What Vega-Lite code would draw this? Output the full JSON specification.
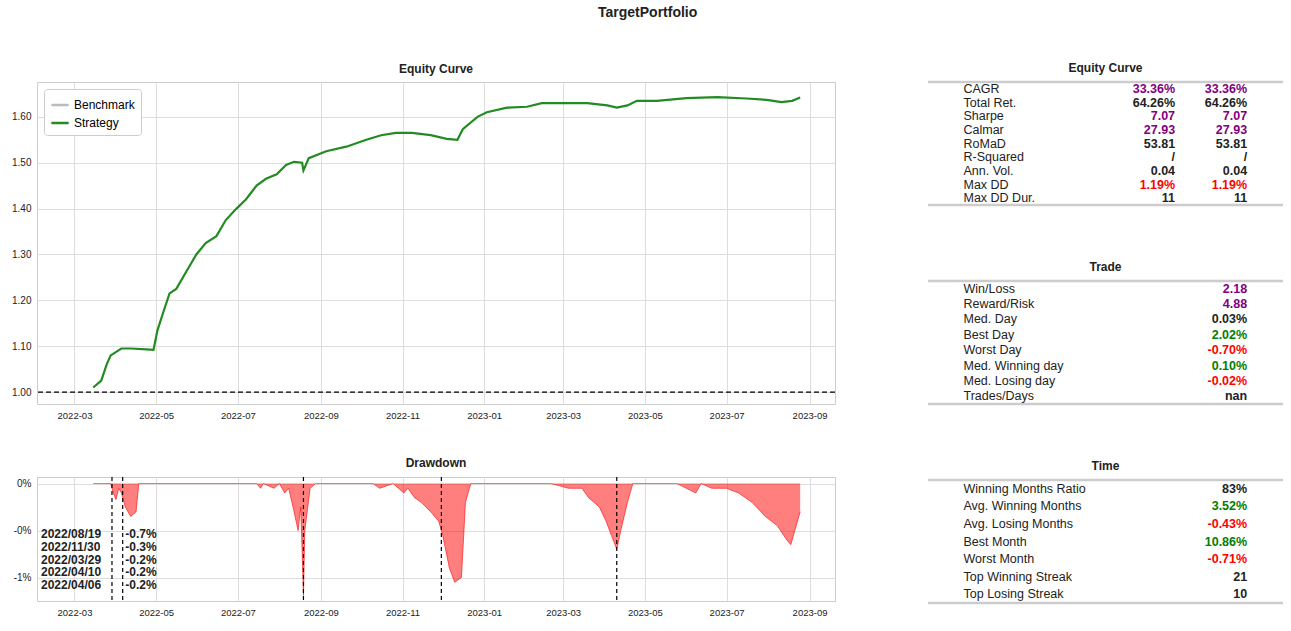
{
"$schema":"https://vega.github.io/schema/vega-lite/v6.json",
"title":{"text":"TargetPortfolio","fontSize":14,"font":"Liberation Sans","fontWeight":"bold","offset":42,"anchor":"middle"},
"padding":{"left":11,"top":5,"right":5,"bottom":5},
"config":{"view":{"stroke":"#cccccc"},"font":"Liberation Sans","title":{"fontSize":12,"fontWeight":"bold","font":"Liberation Sans","color":"#222"},"axis":{"labelFont":"Liberation Sans","labelFontSize":10,"labelColor":"#222","gridColor":"#dddddd","domain":false,"ticks":false,"labelPadding":6}},
"spacing":89,
"resolve":{"scale":{"color":"independent"}},
"datasets":{
"eq":[
{"d":"2022/03/15","v":1.01},{"d":"2022/03/21","v":1.025},{"d":"2022/03/25","v":1.06},{"d":"2022/03/28","v":1.08},{"d":"2022/04/05","v":1.095},{"d":"2022/04/12","v":1.095},{"d":"2022/04/24","v":1.093},{"d":"2022/04/29","v":1.092},{"d":"2022/05/02","v":1.135},{"d":"2022/05/07","v":1.18},{"d":"2022/05/11","v":1.215},{"d":"2022/05/16","v":1.225},{"d":"2022/05/23","v":1.26},{"d":"2022/05/31","v":1.30},{"d":"2022/06/07","v":1.325},{"d":"2022/06/15","v":1.34},{"d":"2022/06/22","v":1.375},{"d":"2022/06/30","v":1.40},{"d":"2022/07/07","v":1.42},{"d":"2022/07/15","v":1.45},{"d":"2022/07/22","v":1.465},{"d":"2022/07/30","v":1.475},{"d":"2022/08/06","v":1.495},{"d":"2022/08/12","v":1.502},{"d":"2022/08/18","v":1.50},{"d":"2022/08/19","v":1.483},{"d":"2022/08/23","v":1.51},{"d":"2022/09/05","v":1.525},{"d":"2022/09/20","v":1.535},{"d":"2022/10/05","v":1.55},{"d":"2022/10/16","v":1.56},{"d":"2022/10/27","v":1.565},{"d":"2022/11/08","v":1.565},{"d":"2022/11/22","v":1.56},{"d":"2022/12/04","v":1.552},{"d":"2022/12/12","v":1.55},{"d":"2022/12/16","v":1.573},{"d":"2022/12/27","v":1.60},{"d":"2023/01/03","v":1.61},{"d":"2023/01/18","v":1.62},{"d":"2023/02/02","v":1.622},{"d":"2023/02/13","v":1.63},{"d":"2023/02/24","v":1.63},{"d":"2023/03/19","v":1.63},{"d":"2023/04/03","v":1.625},{"d":"2023/04/10","v":1.62},{"d":"2023/04/18","v":1.625},{"d":"2023/04/25","v":1.635},{"d":"2023/05/10","v":1.635},{"d":"2023/06/01","v":1.641},{"d":"2023/06/24","v":1.643},{"d":"2023/07/16","v":1.64},{"d":"2023/07/31","v":1.637},{"d":"2023/08/11","v":1.632},{"d":"2023/08/19","v":1.635},{"d":"2023/08/25","v":1.642}
],
"dd":[
{"d":"2022/03/15","v":0},{"d":"2022/03/28","v":0},{"d":"2022/03/30","v":-0.1},{"d":"2022/04/01","v":-0.17},{"d":"2022/04/03","v":-0.05},{"d":"2022/04/05","v":-0.1},{"d":"2022/04/08","v":-0.25},{"d":"2022/04/12","v":-0.35},{"d":"2022/04/16","v":-0.3},{"d":"2022/04/18","v":0},{"d":"2022/07/15","v":0},{"d":"2022/07/18","v":-0.05},{"d":"2022/07/20","v":0},{"d":"2022/07/28","v":-0.05},{"d":"2022/08/01","v":0},{"d":"2022/08/05","v":-0.1},{"d":"2022/08/08","v":-0.05},{"d":"2022/08/12","v":-0.3},{"d":"2022/08/15","v":-0.5},{"d":"2022/08/17","v":-0.25},{"d":"2022/08/19","v":-1.19},{"d":"2022/08/20","v":-0.5},{"d":"2022/08/24","v":-0.05},{"d":"2022/08/28","v":0},{"d":"2022/10/10","v":0},{"d":"2022/10/15","v":-0.05},{"d":"2022/10/25","v":0},{"d":"2022/11/02","v":-0.1},{"d":"2022/11/05","v":-0.05},{"d":"2022/11/10","v":-0.15},{"d":"2022/11/15","v":-0.2},{"d":"2022/11/22","v":-0.3},{"d":"2022/11/28","v":-0.4},{"d":"2022/12/01","v":-0.55},{"d":"2022/12/06","v":-0.9},{"d":"2022/12/10","v":-1.05},{"d":"2022/12/15","v":-1.0},{"d":"2022/12/18","v":-0.2},{"d":"2022/12/22","v":0},{"d":"2023/02/20","v":0},{"d":"2023/03/05","v":-0.05},{"d":"2023/03/15","v":-0.05},{"d":"2023/03/20","v":-0.15},{"d":"2023/03/28","v":-0.25},{"d":"2023/04/02","v":-0.4},{"d":"2023/04/06","v":-0.55},{"d":"2023/04/10","v":-0.7},{"d":"2023/04/13","v":-0.5},{"d":"2023/04/18","v":-0.2},{"d":"2023/04/22","v":0},{"d":"2023/05/25","v":0},{"d":"2023/06/01","v":-0.05},{"d":"2023/06/08","v":-0.1},{"d":"2023/06/12","v":0},{"d":"2023/06/20","v":-0.05},{"d":"2023/07/01","v":-0.05},{"d":"2023/07/10","v":-0.1},{"d":"2023/07/20","v":-0.2},{"d":"2023/07/30","v":-0.35},{"d":"2023/08/08","v":-0.45},{"d":"2023/08/15","v":-0.6},{"d":"2023/08/18","v":-0.65},{"d":"2023/08/21","v":-0.5},{"d":"2023/08/25","v":-0.3}
],
"ann":[
{"d":"2022/08/19","lbl":"2022/08/19","val":"-0.7%","y":-0.54},
{"d":"2022/11/30","lbl":"2022/11/30","val":"-0.3%","y":-0.67},
{"d":"2022/03/29","lbl":"2022/03/29","val":"-0.2%","y":-0.81},
{"d":"2023/04/10","lbl":"2022/04/10","val":"-0.2%","y":-0.94},
{"d":"2022/04/06","lbl":"2022/04/06","val":"-0.2%","y":-1.08}
],
"t1":[
{"i":0,"k":"CAGR","a":"33.36%","b":"33.36%","c":"hi"},
{"i":1,"k":"Total Ret.","a":"64.26%","b":"64.26%","c":"n"},
{"i":2,"k":"Sharpe","a":"7.07","b":"7.07","c":"hi"},
{"i":3,"k":"Calmar","a":"27.93","b":"27.93","c":"hi"},
{"i":4,"k":"RoMaD","a":"53.81","b":"53.81","c":"n"},
{"i":5,"k":"R-Squared","a":"/","b":"/","c":"n"},
{"i":6,"k":"Ann. Vol.","a":"0.04","b":"0.04","c":"n"},
{"i":7,"k":"Max DD","a":"1.19%","b":"1.19%","c":"bad"},
{"i":8,"k":"Max DD Dur.","a":"11","b":"11","c":"n"}
],
"t2":[
{"i":0,"k":"Win/Loss","b":"2.18","c":"hi"},
{"i":1,"k":"Reward/Risk","b":"4.88","c":"hi"},
{"i":2,"k":"Med. Day","b":"0.03%","c":"n"},
{"i":3,"k":"Best Day","b":"2.02%","c":"good"},
{"i":4,"k":"Worst Day","b":"-0.70%","c":"bad"},
{"i":5,"k":"Med. Winning day","b":"0.10%","c":"good"},
{"i":6,"k":"Med. Losing day","b":"-0.02%","c":"bad"},
{"i":7,"k":"Trades/Days","b":"nan","c":"n"}
],
"t3":[
{"i":0,"k":"Winning Months Ratio","b":"83%","c":"n"},
{"i":1,"k":"Avg. Winning Months","b":"3.52%","c":"good"},
{"i":2,"k":"Avg. Losing Months","b":"-0.43%","c":"bad"},
{"i":3,"k":"Best Month","b":"10.86%","c":"good"},
{"i":4,"k":"Worst Month","b":"-0.71%","c":"bad"},
{"i":5,"k":"Top Winning Streak","b":"21","c":"n"},
{"i":6,"k":"Top Losing Streak","b":"10","c":"n"}
]
},
"hconcat":[
{"vconcat":[
{"title":{"text":"Equity Curve","offset":6},"width":798,"height":322,
"layer":[
{"data":{"values":[{"y":1}]},"mark":{"type":"rule","strokeDash":[5,3],"color":"black","strokeWidth":1.2},"encoding":{"y":{"field":"y","type":"quantitative"}}},
{"data":{"name":"eq"},"transform":[{"calculate":"'Strategy'","as":"s"}],"mark":{"type":"line","strokeWidth":2.2},
"encoding":{"x":{"field":"d","type":"temporal","scale":{"domain":["2022/02/01","2023/09/20"]},"axis":{"format":"%Y-%m","tickCount":{"interval":"month","step":2},"title":null,"labelFontSize":9.5}},
"y":{"field":"v","type":"quantitative","scale":{"domain":[0.974,1.676],"nice":false,"zero":false},"axis":{"values":[1,1.1,1.2,1.3,1.4,1.5,1.6],"format":".2f","title":null}},
"color":{"field":"s","type":"nominal","scale":{"domain":["Benchmark","Strategy"],"range":["#bbbbbb","#228B22"]},"legend":{"title":null,"orient":"top-left","symbolType":"stroke","symbolStrokeWidth":2.5,"symbolSize":300,"labelFontSize":12,"labelFont":"Liberation Sans","strokeColor":"#cccccc","padding":6,"fillColor":"white","cornerRadius":3,"offset":7}}}}
]},
{"title":{"text":"Drawdown","offset":6},"width":798,"height":124,
"layer":[
{"data":{"name":"dd"},"mark":{"type":"area","color":"red","opacity":0.5,"line":{"color":"red","strokeWidth":1,"opacity":0.6}},
"encoding":{"x":{"field":"d","type":"temporal","scale":{"domain":["2022/02/01","2023/09/20"]},"axis":{"format":"%Y-%m","tickCount":{"interval":"month","step":2},"title":null,"labelFontSize":9.5}},
"y":{"field":"v","type":"quantitative","scale":{"domain":[-1.25,0.07],"nice":false},"axis":{"values":[0,-0.5,-1],"labelExpr":"datum.value==0?'0%':datum.value==-1?'-1%':'-0%'","title":null}}}},
{"data":{"name":"ann"},"mark":{"type":"rule","strokeDash":[4,3],"color":"black","strokeWidth":1.2},"encoding":{"x":{"field":"d","type":"temporal"}}},
{"data":{"name":"ann"},"mark":{"type":"text","align":"left","baseline":"middle","fontWeight":"bold","fontSize":12,"color":"#222"},"encoding":{"x":{"datum":{"year":2022,"month":2,"date":4},"type":"temporal"},"y":{"field":"y","type":"quantitative"},"text":{"field":"lbl"}}},
{"data":{"name":"ann"},"mark":{"type":"text","align":"left","baseline":"middle","fontWeight":"bold","fontSize":12,"color":"#222"},"encoding":{"x":{"datum":{"year":2022,"month":4,"date":8},"type":"temporal"},"y":{"field":"y","type":"quantitative"},"text":{"field":"val"}}}
]}
],"spacing":36},
{"vconcat":[
{"title":{"text":"Equity Curve","offset":6},"width":355,"height":123,"view":{"stroke":null},
"layer":[
{"data":{"values":[{"p":-0.5},{"p":8.5}]},"mark":{"type":"rule","color":"#cccccc","strokeWidth":2.5},"encoding":{"y":{"field":"p","type":"quantitative","scale":{"domain":[-0.5,8.5],"reverse":true,"nice":false,"zero":false},"axis":null}}},
{"data":{"name":"t1"},"mark":{"type":"text","align":"left","baseline":"middle","fontSize":12.5,"color":"#222"},"encoding":{"x":{"datum":0.1,"type":"quantitative","scale":{"domain":[0,1]},"axis":null},"y":{"field":"i","type":"quantitative","axis":null},"text":{"field":"k"}}},
{"data":{"name":"t1"},"mark":{"type":"text","align":"right","baseline":"middle","fontSize":12.5,"fontWeight":"bold"},"encoding":{"x":{"datum":0.696,"type":"quantitative"},"y":{"field":"i","type":"quantitative"},"text":{"field":"a"},"color":{"field":"c","type":"nominal","scale":{"domain":["n","hi","good","bad"],"range":["#222222","#800080","#008000","#ff0000"]},"legend":null}}},
{"data":{"name":"t1"},"mark":{"type":"text","align":"right","baseline":"middle","fontSize":12.5,"fontWeight":"bold"},"encoding":{"x":{"datum":0.899,"type":"quantitative"},"y":{"field":"i","type":"quantitative"},"text":{"field":"b"},"color":{"field":"c","type":"nominal","scale":{"domain":["n","hi","good","bad"],"range":["#222222","#800080","#008000","#ff0000"]},"legend":null}}}
]},
{"title":{"text":"Trade","offset":6},"width":355,"height":123,"view":{"stroke":null},
"layer":[
{"data":{"values":[{"p":-0.5},{"p":7.5}]},"mark":{"type":"rule","color":"#cccccc","strokeWidth":2.5},"encoding":{"y":{"field":"p","type":"quantitative","scale":{"domain":[-0.5,7.5],"reverse":true,"nice":false,"zero":false},"axis":null}}},
{"data":{"name":"t2"},"mark":{"type":"text","align":"left","baseline":"middle","fontSize":12.5,"color":"#222"},"encoding":{"x":{"datum":0.1,"type":"quantitative","scale":{"domain":[0,1]},"axis":null},"y":{"field":"i","type":"quantitative","axis":null},"text":{"field":"k"}}},
{"data":{"name":"t2"},"mark":{"type":"text","align":"right","baseline":"middle","fontSize":12.5,"fontWeight":"bold"},"encoding":{"x":{"datum":0.899,"type":"quantitative"},"y":{"field":"i","type":"quantitative"},"text":{"field":"b"},"color":{"field":"c","type":"nominal","scale":{"domain":["n","hi","good","bad"],"range":["#222222","#800080","#008000","#ff0000"]},"legend":null}}}
]},
{"title":{"text":"Time","offset":6},"width":355,"height":123,"view":{"stroke":null},
"layer":[
{"data":{"values":[{"p":-0.5},{"p":6.5}]},"mark":{"type":"rule","color":"#cccccc","strokeWidth":2.5},"encoding":{"y":{"field":"p","type":"quantitative","scale":{"domain":[-0.5,6.5],"reverse":true,"nice":false,"zero":false},"axis":null}}},
{"data":{"name":"t3"},"mark":{"type":"text","align":"left","baseline":"middle","fontSize":12.5,"color":"#222"},"encoding":{"x":{"datum":0.1,"type":"quantitative","scale":{"domain":[0,1]},"axis":null},"y":{"field":"i","type":"quantitative","axis":null},"text":{"field":"k"}}},
{"data":{"name":"t3"},"mark":{"type":"text","align":"right","baseline":"middle","fontSize":12.5,"fontWeight":"bold"},"encoding":{"x":{"datum":0.899,"type":"quantitative"},"y":{"field":"i","type":"quantitative"},"text":{"field":"b"},"color":{"field":"c","type":"nominal","scale":{"domain":["n","hi","good","bad"],"range":["#222222","#800080","#008000","#ff0000"]},"legend":null}}}
]}
],"spacing":53,"resolve":{"scale":{"color":"independent"}}}
]
}
